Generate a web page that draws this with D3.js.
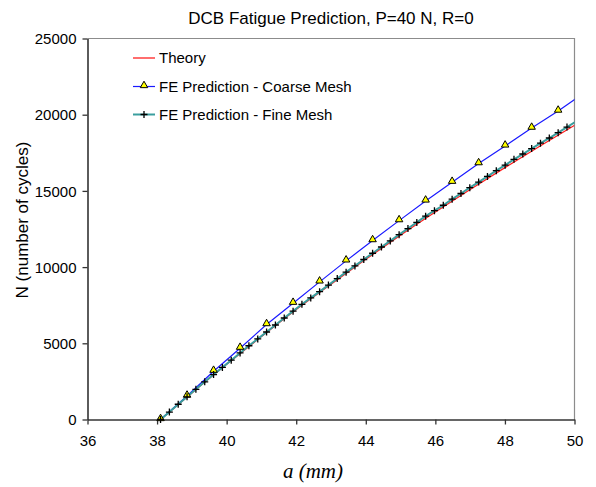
<!DOCTYPE html>
<html>
<head>
<meta charset="utf-8">
<script src="https://cdn.jsdelivr.net/npm/d3@7"></script>
<style>
  body { margin: 0; background: #fff; }
  svg text { fill: #000; }
</style>
</head>
<body>
<script>
// crack length a (mm) vs cycles N
const theoryA = [38.1, 39, 40, 41, 42, 43, 44, 45, 46, 47, 48, 49, 50];
const theoryN = [0, 1745, 3620, 5440, 7220, 8880, 10510, 12100, 13620, 15090, 16530, 17930, 19300];

// coarse mesh: a = 38.1 + 0.762 k
const coarseA = [38.1, 38.862, 39.624, 40.386, 41.148, 41.91, 42.672, 43.434, 44.196, 44.958,
  45.72, 46.482, 47.244, 48.006, 48.768, 49.53, 50.292];
const coarseN = [0, 1540, 3170, 4680, 6230, 7630, 9030, 10410, 11740, 13050,
  14340, 15570, 16790, 17950, 19120, 20240, 21450];

// fine mesh: a = 38.1 + 0.254 k
const fineA = [38.1, 38.354, 38.608, 38.862, 39.116, 39.37, 39.624, 39.878, 40.132, 40.386,
  40.64, 40.894, 41.148, 41.402, 41.656, 41.91, 42.164, 42.418, 42.672, 42.926,
  43.18, 43.434, 43.688, 43.942, 44.196, 44.45, 44.704, 44.958, 45.212, 45.466,
  45.72, 45.974, 46.228, 46.482, 46.736, 46.99, 47.244, 47.498, 47.752, 48.006,
  48.26, 48.514, 48.768, 49.022, 49.276, 49.53, 49.784, 50.038];
const fineN = [0, 490, 1000, 1490, 1980, 2470, 2950, 3420, 3890, 4370,
  4840, 5290, 5740, 6200, 6660, 7110, 7560, 7980, 8390, 8820,
  9250, 9670, 10080, 10500, 10910, 11320, 11720, 12130, 12530, 12930,
  13340, 13700, 14060, 14460, 14830, 15210, 15580, 15950, 16330, 16690,
  17070, 17420, 17780, 18130, 18470, 18820, 19190, 19540];

const xTicks = [36, 38, 40, 42, 44, 46, 48, 50];
const yTicks = [0, 5000, 10000, 15000, 20000, 25000];

const seriesNames = ['Theory', 'FE Prediction - Coarse Mesh', 'FE Prediction - Fine Mesh'];

const sans = 'Arial, "Liberation Sans", sans-serif';
const width = 596, height = 487;
const plot = {left: 87.5, right: 574.5, top: 38.5, bottom: 419.5};

const svg = d3.select('body').append('svg')
  .attr('width', width)
  .attr('height', height)
  .style('font-family', sans);

const x = d3.scaleLinear().domain([36, 50]).range([plot.left, plot.right]);
const y = d3.scaleLinear().domain([0, 25000]).range([plot.bottom, plot.top]);

svg.append('defs').append('clipPath')
  .attr('id', 'clip')
  .append('rect')
  .attr('x', plot.left).attr('y', plot.top - 5)
  .attr('width', plot.right - plot.left).attr('height', plot.bottom - plot.top + 10);

// top / right border
svg.append('path')
  .attr('d', `M${plot.left},${plot.top}H${plot.right}V${plot.bottom}`)
  .attr('fill', 'none')
  .attr('stroke', '#8c8c8c')
  .attr('stroke-width', 1.2);

// axes
const xAxis = svg.append('g')
  .attr('transform', `translate(0,${plot.bottom})`)
  .call(d3.axisBottom(x).tickValues(xTicks).tickSize(5).tickPadding(11).tickSizeOuter(0));
const yAxis = svg.append('g')
  .attr('transform', `translate(${plot.left},0)`)
  .call(d3.axisLeft(y).tickValues(yTicks).tickFormat(d3.format('d'))
    .tickSize(5).tickPadding(6).tickSizeOuter(0));

[xAxis, yAxis].forEach(g => {
  g.select('.domain').attr('stroke', '#333').attr('stroke-width', 1.6);
  g.selectAll('.tick line').attr('stroke', '#333').attr('stroke-width', 1.3);
  g.selectAll('.tick text').attr('font-size', 15).attr('font-family', sans).attr('fill', '#000');
});
yAxis.selectAll('.tick text').attr('dy', '0.35em');

const lineGen = d3.line().x(d => x(d[0])).y(d => y(d[1]));
const zip = (a, b) => a.map((v, i) => [v, b[i]]);

const plotG = svg.append('g').attr('clip-path', 'url(#clip)');

plotG.append('path')
  .datum(zip(theoryA, theoryN))
  .attr('d', lineGen.curve(d3.curveMonotoneX))
  .attr('fill', 'none')
  .attr('stroke', '#ff2020')
  .attr('stroke-width', 1.3);

lineGen.curve(d3.curveLinear);

plotG.append('path')
  .datum(zip(coarseA, coarseN))
  .attr('d', lineGen)
  .attr('fill', 'none')
  .attr('stroke', '#1a1aff')
  .attr('stroke-width', 1.2);

plotG.append('path')
  .datum(zip(fineA, fineN))
  .attr('d', lineGen)
  .attr('fill', 'none')
  .attr('stroke', '#3a9e9e')
  .attr('stroke-width', 2);

const tri = d3.symbol().type(d3.symbolTriangle).size(24);
const plus = 'M-3.5,0H3.5M0,-3.5V3.5';

svg.append('g')
  .selectAll('path')
  .data(zip(coarseA, coarseN).filter(d => d[0] <= 50))
  .join('path')
  .attr('transform', d => `translate(${x(d[0])},${y(d[1]) - 1})`)
  .attr('d', tri)
  .attr('fill', '#ffff00')
  .attr('stroke', '#000')
  .attr('stroke-width', 1);

svg.append('g')
  .selectAll('path')
  .data(zip(fineA, fineN).filter(d => d[0] <= 50))
  .join('path')
  .attr('transform', d => `translate(${x(d[0])},${y(d[1])})`)
  .attr('d', plus)
  .attr('stroke', '#000')
  .attr('stroke-width', 1.3);

// legend
const legend = svg.append('g');
const legendY = [58, 86.5, 114.5];
const legendColors = ['#ff2020', '#1a1aff', '#3a9e9e'];
const legendWidths = [1.3, 1.2, 2];
seriesNames.forEach((name, i) => {
  legend.append('line')
    .attr('x1', 133).attr('x2', 155)
    .attr('y1', legendY[i]).attr('y2', legendY[i])
    .attr('stroke', legendColors[i])
    .attr('stroke-width', legendWidths[i]);
  legend.append('text')
    .attr('x', 159).attr('y', legendY[i])
    .attr('dy', '0.35em')
    .attr('font-size', 15)
    .text(name);
});
legend.append('path')
  .attr('transform', `translate(144,${legendY[1] - 1})`)
  .attr('d', tri)
  .attr('fill', '#ffff00').attr('stroke', '#000').attr('stroke-width', 1);
legend.append('path')
  .attr('transform', `translate(144,${legendY[2]})`)
  .attr('d', plus)
  .attr('stroke', '#000').attr('stroke-width', 1.3);

// titles
svg.append('text')
  .attr('x', 331).attr('y', 24)
  .attr('text-anchor', 'middle')
  .attr('font-size', 17)
  .text('DCB Fatigue Prediction, P=40 N, R=0');

svg.append('text')
  .attr('transform', 'translate(28,220) rotate(-90)')
  .attr('text-anchor', 'middle')
  .attr('font-size', 17)
  .text('N (number of cycles)');

svg.append('text')
  .attr('x', 313).attr('y', 478)
  .attr('text-anchor', 'middle')
  .style('font-family', '"Liberation Serif", "DejaVu Serif", serif')
  .style('font-style', 'italic')
  .attr('font-size', 21)
  .text('a (mm)');
</script>
</body>
</html>
